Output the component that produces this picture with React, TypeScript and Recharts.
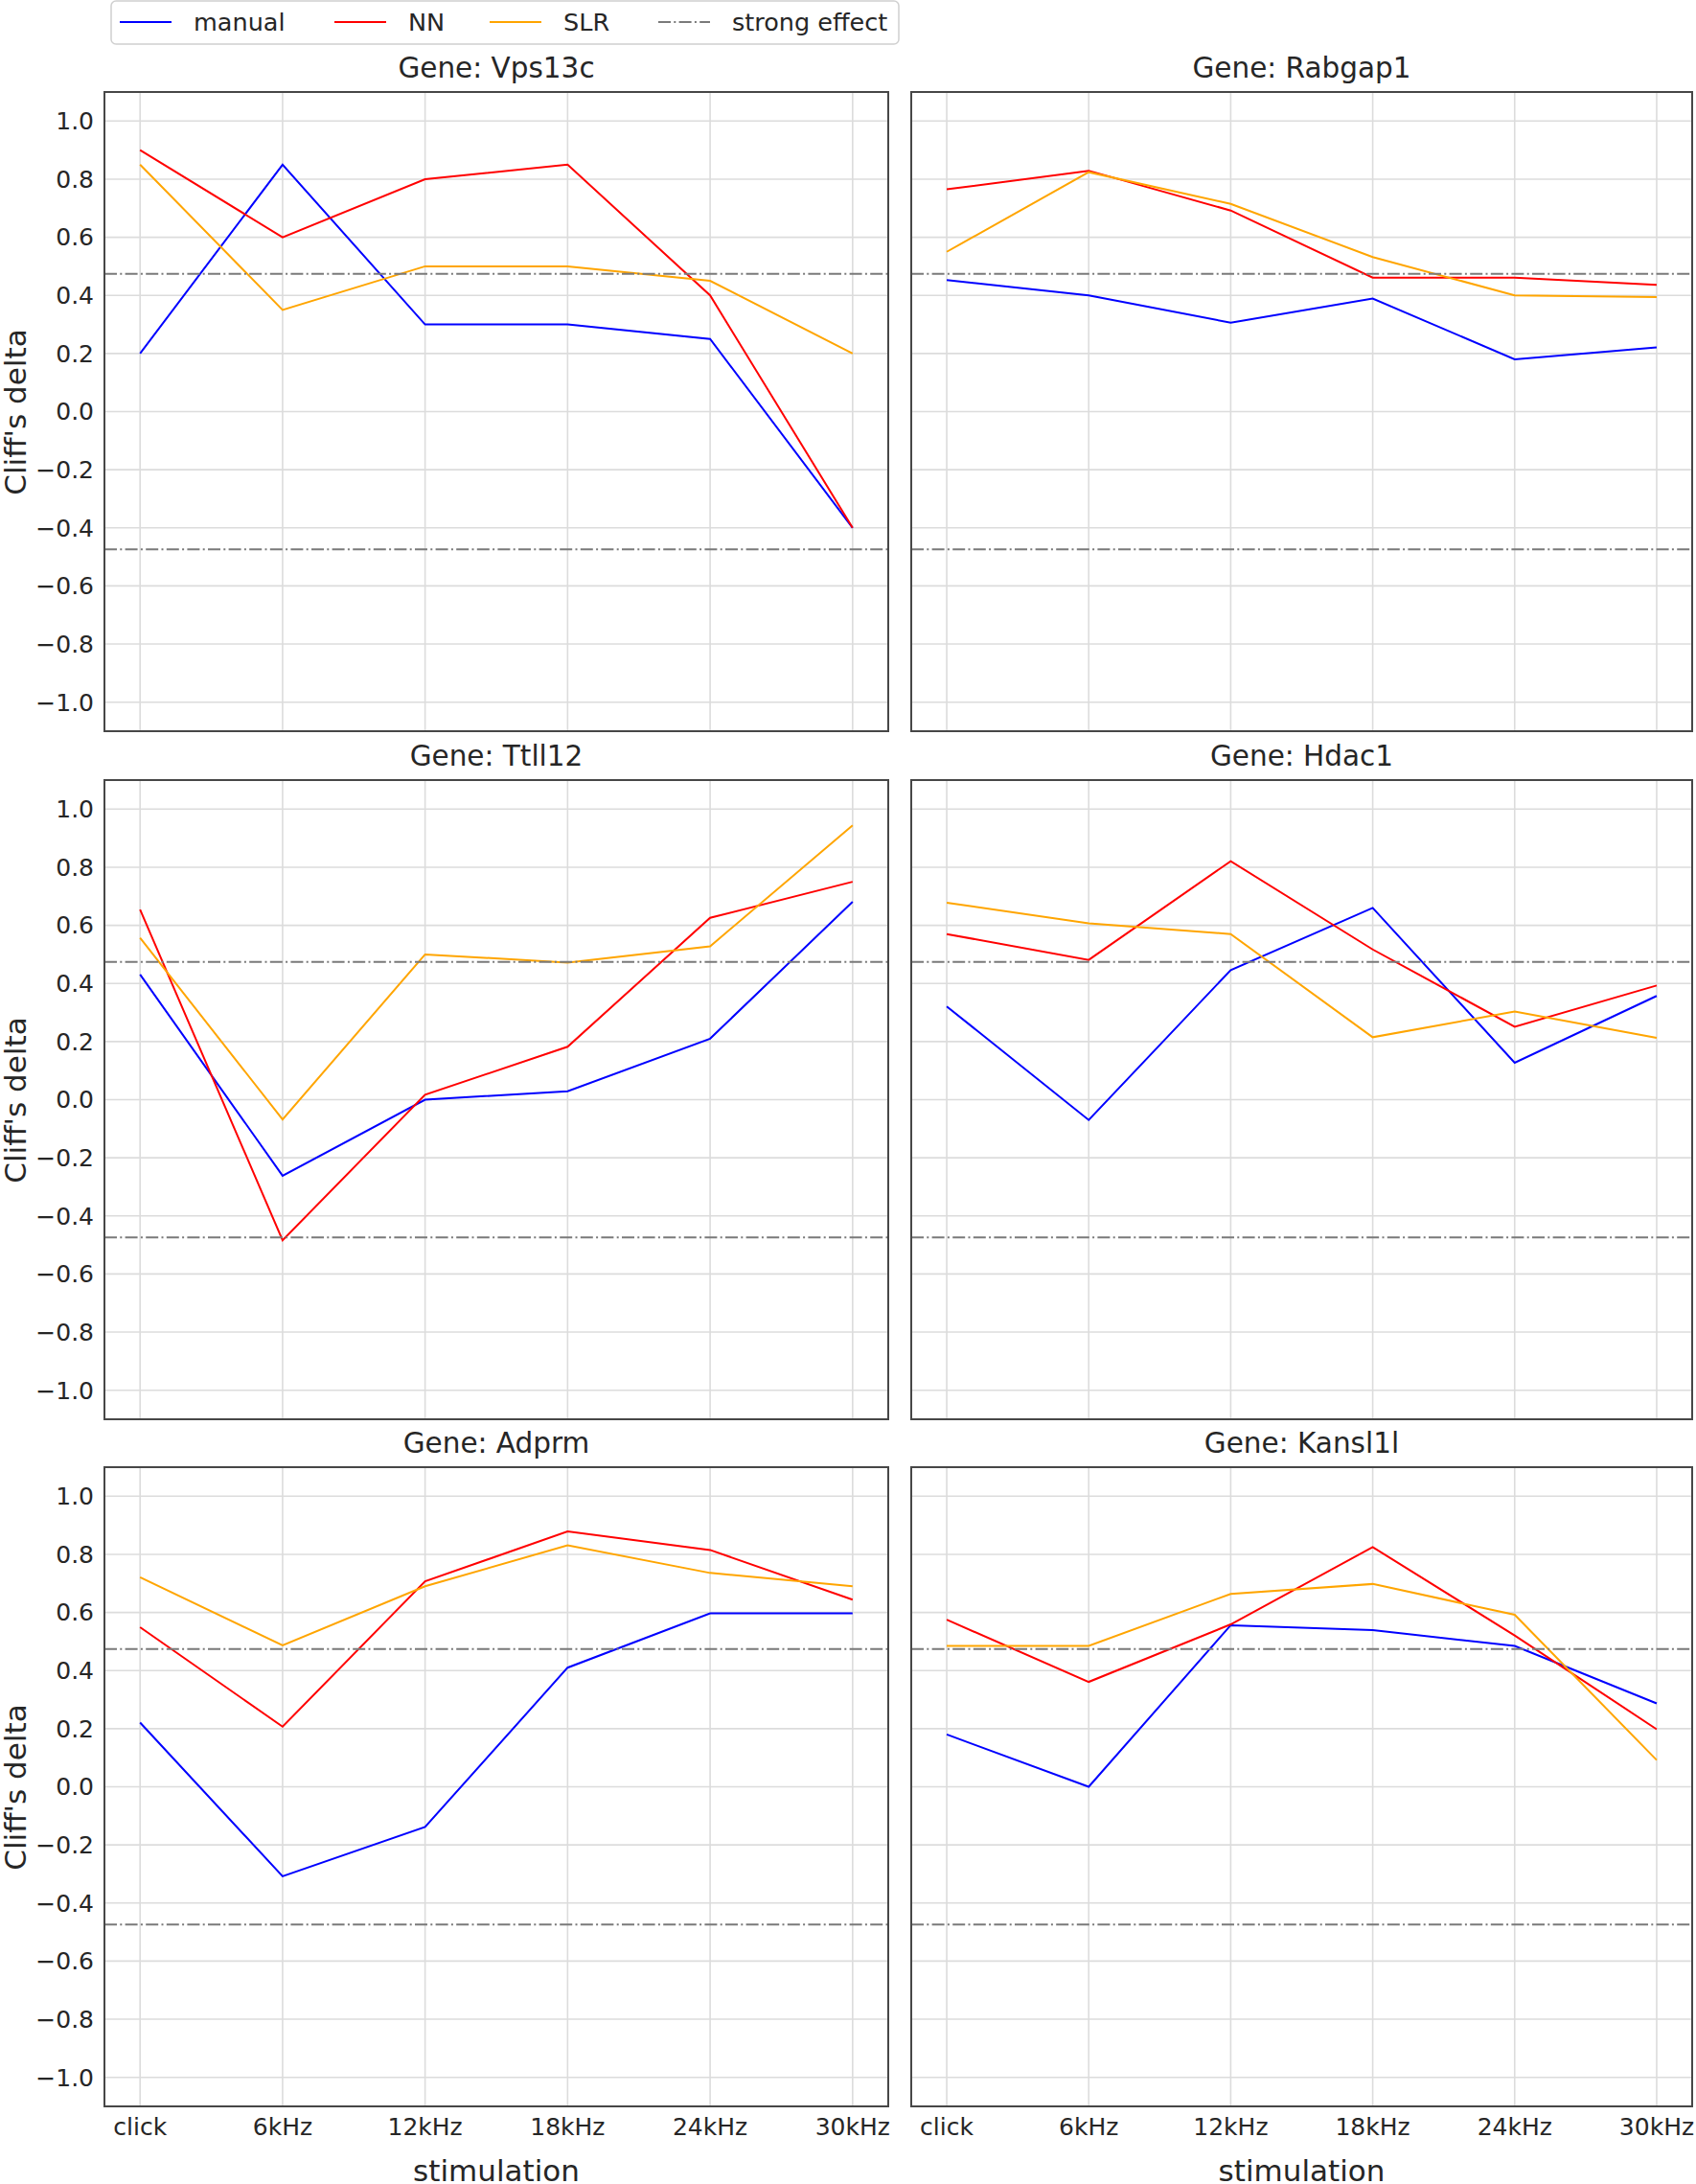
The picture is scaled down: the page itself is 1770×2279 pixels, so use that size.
import React from 'react';
import { CartesianGrid, Line, LineChart, ReferenceLine, XAxis, YAxis } from 'recharts';

// stimulation categories (x axis)
const stimuli = ['click', '6kHz', '12kHz', '18kHz', '24kHz', '30kHz'];

// Cliff's delta per gene and method
const vps13cManual = [0.2, 0.85, 0.3, 0.3, 0.25, -0.4];
const vps13cNN = [0.9, 0.6, 0.8, 0.85, 0.4, -0.4];
const vps13cSLR = [0.85, 0.35, 0.5, 0.5, 0.45, 0.2];

const rabgap1Manual = [0.453, 0.4, 0.306, 0.389, 0.18, 0.221];
const rabgap1NN = [0.765, 0.829, 0.692, 0.461, 0.461, 0.436];
const rabgap1SLR = [0.55, 0.824, 0.715, 0.532, 0.4, 0.394];

const ttll12Manual = [0.431, -0.262, 0.0, 0.029, 0.21, 0.681];
const ttll12NN = [0.654, -0.484, 0.017, 0.182, 0.626, 0.75];
const ttll12SLR = [0.557, -0.068, 0.5, 0.472, 0.528, 0.944];

const hdac1Manual = [0.321, -0.07, 0.446, 0.66, 0.127, 0.357];
const hdac1NN = [0.57, 0.481, 0.821, 0.517, 0.251, 0.393];
const hdac1SLR = [0.678, 0.607, 0.57, 0.215, 0.303, 0.213];

const adprmManual = [0.221, -0.308, -0.138, 0.41, 0.597, 0.597];
const adprmNN = [0.549, 0.207, 0.707, 0.879, 0.815, 0.644];
const adprmSLR = [0.721, 0.487, 0.69, 0.831, 0.736, 0.69];

const kansl1lManual = [0.18, 0.0, 0.556, 0.539, 0.485, 0.287];
const kansl1lNN = [0.575, 0.361, 0.559, 0.825, 0.521, 0.198];
const kansl1lSLR = [0.485, 0.485, 0.664, 0.698, 0.592, 0.092];

const strongEffect = 0.474;
const yTicks = [-1.0, -0.8, -0.6, -0.4, -0.2, 0, 0.2, 0.4, 0.6, 0.8, 1.0];

const panels = [
  { gene: 'Vps13c', manual: vps13cManual, nn: vps13cNN, slr: vps13cSLR },
  { gene: 'Rabgap1', manual: rabgap1Manual, nn: rabgap1NN, slr: rabgap1SLR },
  { gene: 'Ttll12', manual: ttll12Manual, nn: ttll12NN, slr: ttll12SLR },
  { gene: 'Hdac1', manual: hdac1Manual, nn: hdac1NN, slr: hdac1SLR },
  { gene: 'Adprm', manual: adprmManual, nn: adprmNN, slr: adprmSLR },
  { gene: 'Kansl1l', manual: kansl1lManual, nn: kansl1lNN, slr: kansl1lSLR },
];

// layout
const PLOT_H = 667;
const ROW_TOPS = [96, 814, 1531];
const COLS = [
  { left: 109, width: 818 },
  { left: 951, width: 815 },
];
const Y_AXIS_W = 109;
const X_AXIS_H = 50;
const PAD = 6;

const TEXT = '#262626';
const FRAME = '#474747';
const GRID = '#dcdcdc';
const DASHDOT = '13 3.3 2 3.3';

const fmtTick = (v: number) => (v < -1e-9 ? '\u2212' : '') + Math.abs(v).toFixed(1);

// keeps the ticks (and so the grid lines) but draws no label
const noTick = () => <g />;

function GenePanel({ index }: { index: number }) {
  const p = panels[index];
  const row = Math.floor(index / 2);
  const col = index % 2;
  const { left, width } = COLS[col];
  const top = ROW_TOPS[row];
  const showY = col === 0;
  const showX = row === 2;
  const yW = showY ? Y_AXIS_W : 0;
  const xH = showX ? X_AXIS_H : 0;
  // matplotlib-style 5% margins on a 0..5 index range
  const catPad = width / 22;

  const data = stimuli.map((s, i) => ({
    stim: s,
    manual: p.manual[i],
    NN: p.nn[i],
    SLR: p.slr[i],
  }));

  return (
    <>
      <div
        style={{
          position: 'absolute',
          left,
          width,
          top: top - 25 - 15,
          height: 30,
          lineHeight: '30px',
          fontSize: 29.5,
          textAlign: 'center',
          color: TEXT,
          whiteSpace: 'nowrap',
        }}
      >
        Gene: {p.gene}
      </div>
      <div style={{ position: 'absolute', left: left - yW - PAD, top: top - PAD }}>
        <LineChart
          width={PAD + yW + width + PAD}
          height={PAD + PLOT_H + xH + PAD}
          data={data}
          margin={{ top: PAD, right: PAD, bottom: PAD, left: PAD }}
        >
          <CartesianGrid stroke={GRID} strokeWidth={1.6} />
          <XAxis
            dataKey="stim"
            type="category"
            padding={{ left: catPad, right: catPad }}
            height={xH}
            interval={0}
            tick={showX ? { fontSize: 25, fill: TEXT } : noTick}
            tickLine={false}
            tickSize={6}
            tickMargin={6}
            axisLine={false}
          />
          <YAxis
            type="number"
            domain={[-1.1, 1.1]}
            ticks={yTicks}
            allowDataOverflow
            width={yW}
            tick={showY ? { fontSize: 25, fill: TEXT } : noTick}
            tickFormatter={fmtTick}
            tickLine={false}
            tickSize={6}
            tickMargin={5}
            axisLine={false}
          />
          <Line type="linear" dataKey="manual" stroke="#0000ff" strokeWidth={2} dot={false} isAnimationActive={false} />
          <Line type="linear" dataKey="NN" stroke="#ff0000" strokeWidth={2} dot={false} isAnimationActive={false} />
          <Line type="linear" dataKey="SLR" stroke="#ffa500" strokeWidth={2} dot={false} isAnimationActive={false} />
          <ReferenceLine y={strongEffect} stroke="#7a7a7a" strokeWidth={2} strokeDasharray={DASHDOT} />
          <ReferenceLine y={-strongEffect} stroke="#7a7a7a" strokeWidth={2} strokeDasharray={DASHDOT} />
        </LineChart>
      </div>
      {/* axes frame */}
      <div
        style={{
          position: 'absolute',
          left: left - 1,
          top: top - 1,
          width: width + 2,
          height: PLOT_H + 2,
          border: `2px solid ${FRAME}`,
          boxSizing: 'border-box',
          pointerEvents: 'none',
        }}
      />
      {showY && (
        <div
          style={{
            position: 'absolute',
            left: 16,
            top: top + PLOT_H / 2,
            transform: 'translate(-50%, -50%) rotate(-90deg)',
            fontSize: 31,
            lineHeight: 1,
            color: TEXT,
            whiteSpace: 'nowrap',
          }}
        >
          Cliff's delta
        </div>
      )}
      {showX && (
        <div
          style={{
            position: 'absolute',
            left: left + width / 2,
            top: 2265,
            transform: 'translate(-50%, -50%)',
            fontSize: 31,
            lineHeight: 1,
            color: TEXT,
            whiteSpace: 'nowrap',
          }}
        >
          stimulation
        </div>
      )}
    </>
  );
}

const legendItems = [
  { label: 'manual', color: '#0000ff', x: 125, dash: undefined as string | undefined },
  { label: 'NN', color: '#ff0000', x: 349, dash: undefined },
  { label: 'SLR', color: '#ffa500', x: 511, dash: undefined },
  { label: 'strong effect', color: '#7a7a7a', x: 687, dash: DASHDOT },
];

function Legend() {
  return (
    <svg style={{ position: 'absolute', left: 0, top: 0 }} width={960} height={50}>
      <rect x={116} y={1} width={822} height={45} rx={5} fill="#fff" stroke="#d0d0d0" strokeWidth={1.5} />
      {legendItems.map((it) => (
        <g key={it.label}>
          <line x1={it.x} x2={it.x + 54} y1={23} y2={23} stroke={it.color} strokeWidth={2} strokeDasharray={it.dash} />
          <text x={it.x + 77} y={23} dominantBaseline="central" fontSize={25.5} fill={TEXT}>
            {it.label}
          </text>
        </g>
      ))}
    </svg>
  );
}

export default function App() {
  return (
    <div
      style={{
        position: 'absolute',
        left: 0,
        top: 0,
        width: 1770,
        height: 2279,
        background: '#fff',
        fontFamily: '"DejaVu Sans", sans-serif',
        color: TEXT,
      }}
    >
      <Legend />
      {panels.map((_, i) => (
        <GenePanel key={i} index={i} />
      ))}
    </div>
  );
}
